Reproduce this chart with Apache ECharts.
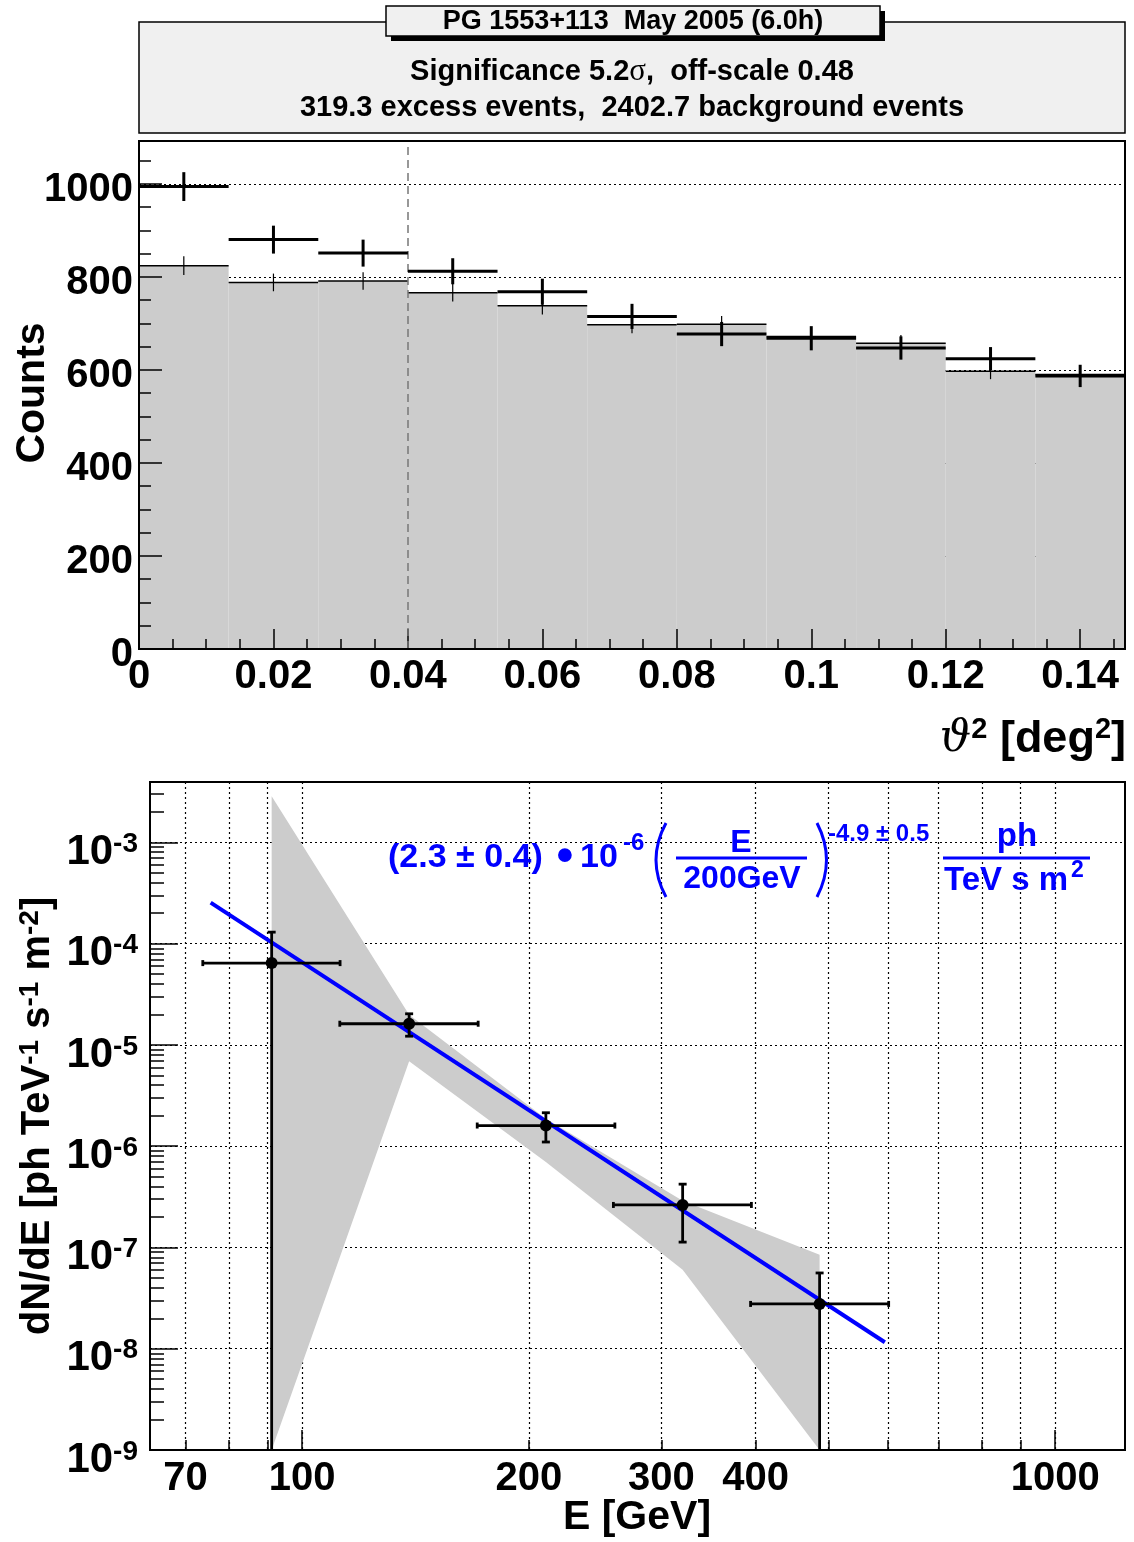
<!DOCTYPE html>
<html>
<head>
<meta charset="utf-8">
<script src="https://cdn.jsdelivr.net/npm/echarts@6/dist/echarts.min.js"></script>
<style>
  html, body { margin: 0; padding: 0; background: #fff; }
  #chart { width: 1134px; height: 1542px; }
</style>
</head>
<body>
<div id="chart"></div>
<script>
// ---- theta^2 distribution (top panel) ----
const thetaBinEdges = [0, 0.013333, 0.026667, 0.04, 0.053333, 0.066667, 0.08, 0.093333, 0.106667, 0.12, 0.133333, 0.146667];
const onCounts  = [994, 880, 851, 812, 768, 715, 677, 668, 647, 624, 587];
const onErrors  = [31, 30, 29, 28, 28, 27, 26, 26, 25, 25, 24];
const offCounts = [824, 788, 791, 766, 738, 697, 698, 672, 657, 597, 590];
const offErrors = [20, 19, 19, 19, 19, 18, 18, 18, 18, 17, 17];
const cutTheta2 = 0.04;
const countsMax = 1092;
const thetaTicks = [0, 0.02, 0.04, 0.06, 0.08, 0.1, 0.12, 0.14];
const countsTicks = [0, 200, 400, 600, 800, 1000];

// ---- differential spectrum (bottom panel) ----
const specE      = [91.1, 138.7, 210.7, 320.1, 486.6];
const specELo    = [73.8, 112.2, 170.8, 259, 394];
const specEHi    = [112.3, 171.3, 260.2, 395, 601];
const specFlux   = [6.43e-5, 1.62e-5, 1.60e-6, 2.63e-7, 2.77e-8];
const specFluxLo = [1e-9, 1.22e-5, 1.10e-6, 1.13e-7, 1e-9];
const specFluxHi = [1.30e-4, 2.03e-5, 2.14e-6, 4.22e-7, 5.60e-8];
const fitE    = [75.6, 594];
const fitFlux = [2.54e-4, 1.16e-8];
const bandE     = [91.1, 138.7, 210.7, 320.1, 486.6];
const bandUpper = [2.86e-3, 1.99e-5, 1.87e-6, 2.9e-7, 8.47e-8];
const bandLower = [1e-9, 6.9e-6, 6.97e-7, 6.03e-8, 1e-9];
const energyMin = 62.8, energyMax = 1238;
const fluxMin = 1e-9, fluxMax = 3.95e-3;
const energyGridTicks = [70, 80, 90, 100, 200, 300, 400, 500, 600, 700, 800, 900, 1000];
const energyMajorTicks = [100, 1000];
const energyLabels = [70, 100, 200, 300, 400, 1000];
const fluxDecades = [1e-9, 1e-8, 1e-7, 1e-6, 1e-5, 1e-4, 1e-3];

const FONT = '"Liberation Sans", Arial, Helvetica, sans-serif';
const TOP = { left: 139, top: 141, width: 986, height: 508 };
const BOT = { left: 150, top: 782, width: 975, height: 668 };
const BLUE = '#0000ff';

// minor tick positions
const thetaMinor = [];
for (let k = 1; k * 0.005 <= thetaBinEdges[thetaBinEdges.length - 1]; k++) {
  if (k % 4 !== 0) thetaMinor.push(+(k * 0.005).toFixed(3));
}
const countsMinor = [];
for (let k = 1; k * 50 < countsMax; k++) {
  if (k % 4 !== 0) countsMinor.push(k * 50);
}
const energyMinor = energyGridTicks.filter(v => energyMajorTicks.indexOf(v) < 0);
const fluxMinor = [];
fluxDecades.forEach(d => {
  for (let m = 2; m <= 9; m++) {
    const v = +(m * d).toPrecision(3);
    if (v < fluxMax) fluxMinor.push(v);
  }
});

const histRows = thetaBinEdges.slice(0, -1).map((lo, i) => [lo, thetaBinEdges[i + 1], offCounts[i], offErrors[i], onCounts[i], onErrors[i]]);
const specRows = specE.map((e, i) => [e, specELo[i], specEHi[i], specFlux[i], specFluxLo[i], specFluxHi[i]]);

const labelStyle = { fontFamily: FONT, fontWeight: 'bold', fontSize: 40, color: '#000' };
const blackLine = { color: '#000', width: 2 };
const dotted = { color: '#000', width: 1.2, type: [2, 3] };

function tickAxis(grid, type, min, max, values, len, extra) {
  return Object.assign({
    gridIndex: grid, type: type, min: min, max: max, z: 3,
    axisLine: { show: false, onZero: false },
    axisTick: { show: true, inside: true, length: len, customValues: values, lineStyle: { color: '#000', width: 1.5 } },
    axisLabel: { show: false },
    splitLine: { show: false }
  }, extra || {});
}

function frame(g) {
  return { type: 'rect', z: 40, shape: { x: g.left, y: g.top, width: g.width, height: g.height },
    style: { fill: null, stroke: '#000', lineWidth: 2 } };
}

function txt(x, y, text, size, extra) {
  return { type: 'text', z: 40, x: x, y: y, style: Object.assign({
    text: text, align: 'left', verticalAlign: 'middle',
    fontFamily: FONT, fontWeight: 'bold', fontSize: size, fill: BLUE }, extra || {}) };
}

const chart = echarts.init(document.getElementById('chart'));

const option = {
  animation: false,
  backgroundColor: '#fff',
  grid: [
    Object.assign({ show: false }, TOP),
    Object.assign({ show: false }, BOT)
  ],
  xAxis: [
    tickAxis(0, 'value', 0, thetaBinEdges[thetaBinEdges.length - 1], thetaTicks, 20, {
      position: 'bottom',
      axisLine: { show: true, onZero: false, lineStyle: blackLine },
      axisLabel: Object.assign({ show: true, margin: 8, customValues: thetaTicks, formatter: v => String(v) }, labelStyle)
    }),
    tickAxis(0, 'value', 0, thetaBinEdges[thetaBinEdges.length - 1], thetaMinor, 10, { position: 'bottom' }),
    tickAxis(1, 'log', energyMin, energyMax, energyMajorTicks, 20, {
      position: 'bottom',
      axisLine: { show: true, onZero: false, lineStyle: blackLine },
      axisLabel: Object.assign({ show: true, margin: 9, customValues: energyLabels, formatter: v => String(Math.round(v)) }, labelStyle)
    }),
    tickAxis(1, 'log', energyMin, energyMax, energyMinor, 10, { position: 'bottom' }),
    tickAxis(1, 'log', energyMin, energyMax, energyGridTicks, 10, {
      position: 'bottom', z: 0,
      axisTick: { show: false, customValues: energyGridTicks },
      splitLine: { show: true, lineStyle: dotted }
    })
  ],
  yAxis: [
    tickAxis(0, 'value', 0, countsMax, countsTicks, 23, {
      position: 'left',
      axisLine: { show: true, onZero: false, lineStyle: blackLine },
      axisLabel: {
        show: true, margin: 6, customValues: countsTicks,
        formatter: v => '{a|' + v + '}',
        rich: { a: Object.assign({ padding: [12, 0, 0, 0] }, labelStyle) }
      }
    }),
    tickAxis(0, 'value', 0, countsMax, countsMinor, 12, { position: 'left' }),
    tickAxis(0, 'value', 0, countsMax, countsTicks, 10, {
      position: 'left', z: 0,
      axisTick: { show: false, customValues: countsTicks },
      splitLine: { show: true, lineStyle: dotted }
    }),
    tickAxis(1, 'log', fluxMin, fluxMax, fluxDecades, 28, {
      position: 'left',
      axisLine: { show: true, onZero: false, lineStyle: blackLine },
      axisLabel: {
        show: true, margin: 12, customValues: fluxDecades, padding: [20, 0, 0, 0],
        formatter: v => '{b|10}{s|' + Math.round(Math.log10(v)) + '}',
        rich: {
          b: { fontFamily: FONT, fontWeight: 'bold', fontSize: 42, color: '#000', lineHeight: 44 },
          s: { fontFamily: FONT, fontWeight: 'bold', fontSize: 28, color: '#000', verticalAlign: 'top', lineHeight: 16 }
        }
      }
    }),
    tickAxis(1, 'log', fluxMin, fluxMax, fluxMinor, 14, { position: 'left' }),
    tickAxis(1, 'log', fluxMin, fluxMax, fluxDecades, 10, {
      position: 'left', z: 0,
      axisTick: { show: false, customValues: fluxDecades },
      splitLine: { show: true, lineStyle: dotted }
    })
  ],
  series: [
    // OFF (scaled background) histogram: filled bins, top edge, error bars
    {
      name: 'OFF', type: 'custom', xAxisIndex: 0, yAxisIndex: 0, z: 1,
      data: histRows,
      encode: { x: [0, 1], y: [2] },
      renderItem: (params, api) => {
        const p0 = api.coord([api.value(0), 0]);
        const p1 = api.coord([api.value(1), api.value(2)]);
        const xc = (p0[0] + p1[0]) / 2;
        const eLo = api.coord([0, api.value(2) - api.value(3)]);
        const eHi = api.coord([0, api.value(2) + api.value(3)]);
        return {
          type: 'group',
          children: [
            { type: 'rect', shape: { x: p0[0], y: p1[1], width: p1[0] - p0[0], height: p0[1] - p1[1] }, style: { fill: '#cccccc' } },
            { type: 'line', shape: { x1: p0[0], y1: p1[1], x2: p1[0], y2: p1[1] }, style: { stroke: '#000', lineWidth: 1.5 } },
            { type: 'line', shape: { x1: xc, y1: eLo[1], x2: xc, y2: eHi[1] }, style: { stroke: '#000', lineWidth: 1.2 } }
          ]
        };
      }
    },
    // ON counts with error crosses
    {
      name: 'ON', type: 'custom', xAxisIndex: 0, yAxisIndex: 0, z: 5,
      data: histRows,
      encode: { x: [0, 1], y: [4] },
      renderItem: (params, api) => {
        const p0 = api.coord([api.value(0), api.value(4)]);
        const p1 = api.coord([api.value(1), api.value(4)]);
        const xc = (p0[0] + p1[0]) / 2;
        const eLo = api.coord([0, api.value(4) - api.value(5)]);
        const eHi = api.coord([0, api.value(4) + api.value(5)]);
        return {
          type: 'group',
          children: [
            { type: 'line', shape: { x1: p0[0], y1: p0[1], x2: p1[0], y2: p1[1] }, style: { stroke: '#000', lineWidth: 3 } },
            { type: 'line', shape: { x1: xc, y1: eLo[1], x2: xc, y2: eHi[1] }, style: { stroke: '#000', lineWidth: 3 } }
          ]
        };
      }
    },
    // theta^2 cut
    {
      name: 'cut', type: 'line', xAxisIndex: 0, yAxisIndex: 0, z: 4, data: [],
      markLine: {
        silent: true, symbol: ['none', 'none'], label: { show: false },
        lineStyle: { color: '#777', width: 1.5, type: [8, 5] },
        data: [{ xAxis: cutTheta2 }]
      }
    },
    // fit uncertainty band
    {
      name: 'band', type: 'custom', xAxisIndex: 2, yAxisIndex: 3, z: 1,
      data: bandE.map((e, i) => [e, bandLower[i], bandUpper[i]]),
      encode: { x: [0], y: [1, 2] },
      renderItem: (params, api) => {
        if (params.dataIndex !== 0) return;
        const pts = [];
        for (let i = 0; i < bandE.length; i++) pts.push(api.coord([bandE[i], bandUpper[i]]));
        for (let i = bandE.length - 1; i >= 0; i--) pts.push(api.coord([bandE[i], bandLower[i]]));
        return { type: 'polygon', shape: { points: pts }, style: { fill: '#cccccc' } };
      }
    },
    // power-law fit
    {
      name: 'fit', type: 'line', xAxisIndex: 2, yAxisIndex: 3, z: 5,
      data: fitE.map((e, i) => [e, fitFlux[i]]),
      symbol: 'none',
      lineStyle: { color: BLUE, width: 4 }
    },
    // flux points
    {
      name: 'flux', type: 'custom', xAxisIndex: 2, yAxisIndex: 3, z: 6,
      data: specRows,
      encode: { x: [0, 1, 2], y: [3, 4, 5] },
      renderItem: (params, api) => {
        const x = api.value(0), y = api.value(3);
        const c = api.coord([x, y]);
        const l = api.coord([api.value(1), y]);
        const r = api.coord([api.value(2), y]);
        const lo = api.coord([x, api.value(4)]);
        const hi = api.coord([x, api.value(5)]);
        const st = { stroke: '#000', lineWidth: 2.8 };
        const kids = [
          { type: 'line', shape: { x1: l[0], y1: c[1], x2: r[0], y2: c[1] }, style: st },
          { type: 'line', shape: { x1: l[0], y1: c[1] - 3, x2: l[0], y2: c[1] + 3 }, style: st },
          { type: 'line', shape: { x1: r[0], y1: c[1] - 3, x2: r[0], y2: c[1] + 3 }, style: st },
          { type: 'line', shape: { x1: c[0], y1: lo[1], x2: c[0], y2: hi[1] }, style: st },
          { type: 'line', shape: { x1: c[0] - 4, y1: hi[1], x2: c[0] + 4, y2: hi[1] }, style: st },
          { type: 'circle', shape: { cx: c[0], cy: c[1], r: 6 }, style: { fill: '#000' } }
        ];
        if (api.value(4) > fluxMin) {
          kids.push({ type: 'line', shape: { x1: c[0] - 4, y1: lo[1], x2: c[0] + 4, y2: lo[1] }, style: st });
        }
        return { type: 'group', children: kids };
      }
    }
  ],
  graphic: [
    // stats box
    { type: 'rect', z: 50, shape: { x: 139, y: 22, width: 986, height: 111 }, style: { fill: '#f0f0f0', stroke: '#000', lineWidth: 1.5 } },
    { type: 'text', z: 51, x: 632, y: 72, style: { text: '{n|Significance 5.2}{g|σ}{n|,  off-scale 0.48}', align: 'center', verticalAlign: 'middle',
        rich: { n: { fontFamily: FONT, fontWeight: 'bold', fontSize: 29, fill: '#000' }, g: { fontFamily: '"Liberation Serif", serif', fontSize: 31, fill: '#000' } } } },
    { type: 'text', z: 51, x: 632, y: 108, style: { text: '319.3 excess events,  2402.7 background events', align: 'center', verticalAlign: 'middle',
        fontFamily: FONT, fontWeight: 'bold', fontSize: 29, fill: '#000' } },
    // title box with shadow
    { type: 'rect', z: 52, shape: { x: 391, y: 11, width: 494, height: 30 }, style: { fill: '#000' } },
    { type: 'rect', z: 53, shape: { x: 386, y: 6, width: 494, height: 30 }, style: { fill: '#f0f0f0', stroke: '#000', lineWidth: 1.5 } },
    { type: 'text', z: 54, x: 633, y: 22, style: { text: 'PG 1553+113  May 2005 (6.0h)', align: 'center', verticalAlign: 'middle',
        fontFamily: FONT, fontWeight: 'bold', fontSize: 27, fill: '#000' } },

    // plot frames
    frame(TOP),
    frame(BOT),

    // axis titles, top panel
    { type: 'text', z: 40, x: 33, y: 393, rotation: Math.PI / 2, style: { text: 'Counts', align: 'center', verticalAlign: 'middle',
        fontFamily: FONT, fontWeight: 'bold', fontSize: 41, fill: '#000' } },
    { type: 'text', z: 40, x: 1126, y: 740, style: { text: '{t|ϑ}{s|2}{n| [deg}{s|2}{n|]}', align: 'right', verticalAlign: 'middle',
        rich: {
          t: { fontFamily: '"DejaVu Serif", "Liberation Serif", serif', fontStyle: 'italic', fontSize: 44, fill: '#000', lineHeight: 50 },
          n: { fontFamily: FONT, fontWeight: 'bold', fontSize: 45, fill: '#000', lineHeight: 50 },
          s: { fontFamily: FONT, fontWeight: 'bold', fontSize: 29, fill: '#000', verticalAlign: 'top', lineHeight: 18 }
        } } },

    // axis titles, bottom panel
    { type: 'text', z: 40, x: 38, y: 1116, rotation: Math.PI / 2, style: {
        text: '{n|dN/dE [ph TeV}{s|-1}{n| s}{s|-1}{n| m}{s|-2}{n|]}', align: 'center', verticalAlign: 'middle',
        rich: {
          n: { fontFamily: FONT, fontWeight: 'bold', fontSize: 40, fill: '#000', lineHeight: 44 },
          s: { fontFamily: FONT, fontWeight: 'bold', fontSize: 28, fill: '#000', verticalAlign: 'top', lineHeight: 18 }
        } } },
    { type: 'text', z: 40, x: 637, y: 1518, style: { text: 'E [GeV]', align: 'center', verticalAlign: 'middle',
        fontFamily: FONT, fontWeight: 'bold', fontSize: 41, fill: '#000' } },

    // fit formula
    txt(388, 858, '(2.3 ± 0.4)', 34),
    txt(565, 858, '•', 48, { align: 'center' }),
    txt(580, 858, '10', 34),
    txt(623, 843, '-6', 24),
    { type: 'bezierCurve', z: 40, shape: { x1: 666, y1: 823, cpx1: 646, cpy1: 860, x2: 666, y2: 897 }, style: { stroke: BLUE, lineWidth: 3, fill: null } },
    txt(741, 843, 'E', 32, { align: 'center' }),
    { type: 'rect', z: 40, shape: { x: 676, y: 856.5, width: 131, height: 3 }, style: { fill: BLUE } },
    txt(742, 879, '200GeV', 32, { align: 'center' }),
    { type: 'bezierCurve', z: 40, shape: { x1: 817, y1: 823, cpx1: 836, cpy1: 860, x2: 817, y2: 897 }, style: { stroke: BLUE, lineWidth: 3, fill: null } },
    txt(828, 834, '-4.9 ± 0.5', 24),
    txt(1017, 837, 'ph', 33, { align: 'center' }),
    { type: 'rect', z: 40, shape: { x: 943, y: 856.5, width: 147, height: 3 }, style: { fill: BLUE } },
    txt(944, 881, 'TeV s m', 33),
    txt(1071, 871, '2', 23)
  ]
};

chart.setOption(option);
</script>
</body>
</html>
